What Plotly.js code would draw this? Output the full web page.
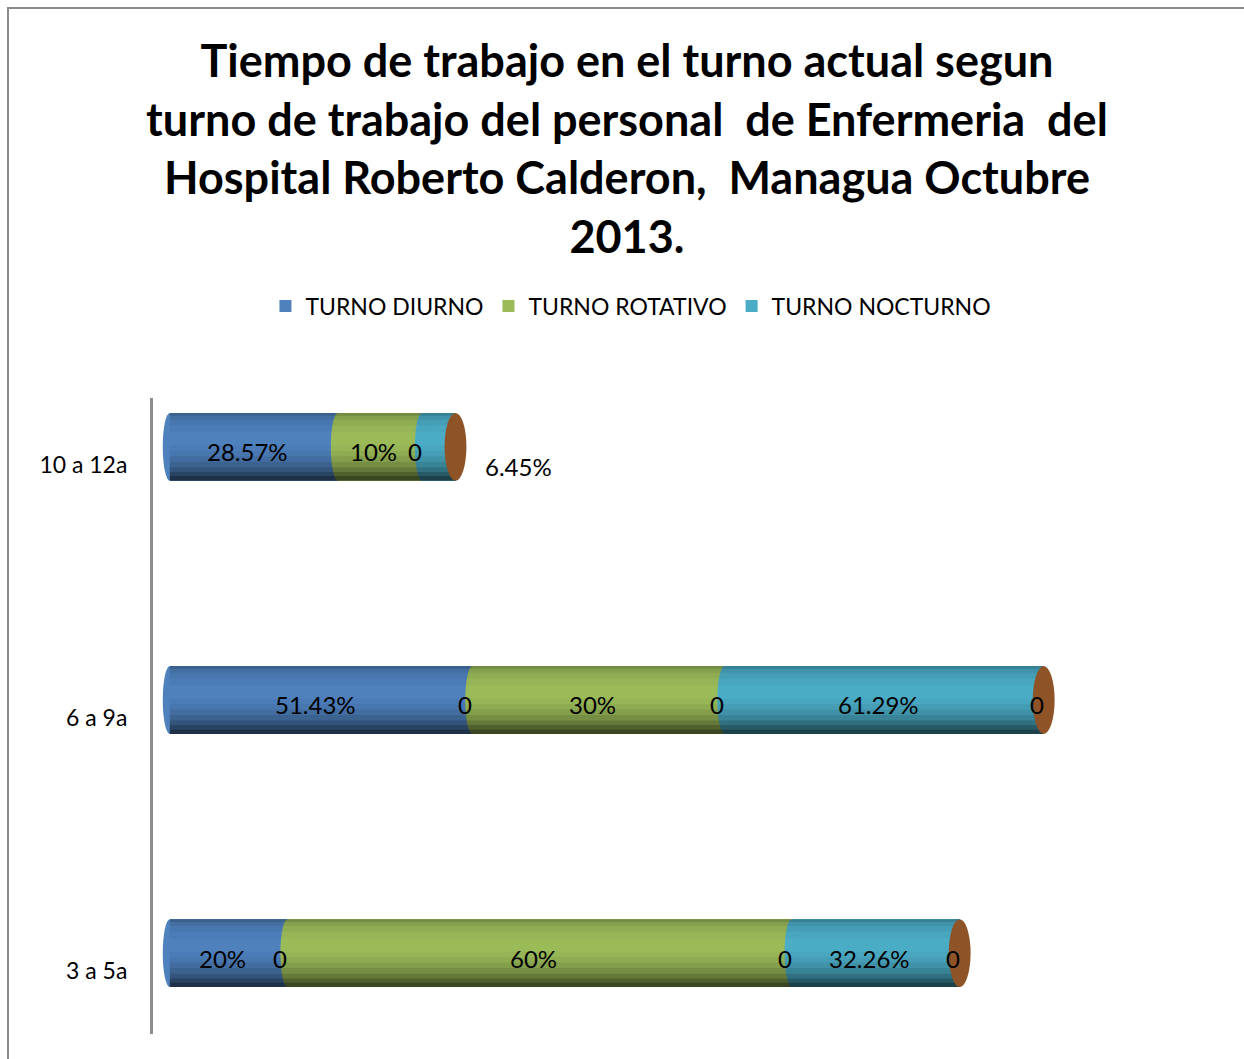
<!DOCTYPE html>
<html>
<head>
<meta charset="utf-8">
<script src="https://cdn.plot.ly/plotly-3.0.1.min.js"></script>
<style>
  html, body { margin: 0; padding: 0; background: #ffffff; }
  #wrap { position: relative; width: 1244px; height: 1059px; overflow: hidden; }
  #chart { position: absolute; left: 0; top: 0; width: 1244px; height: 1059px; }
  #frame { position: absolute; left: 7px; top: 7px; width: 1250px; height: 1070px;
           border-top: 2px solid #8a8a8a; border-left: 2px solid #8a8a8a; pointer-events: none; }
</style>
</head>
<body>
<div id="wrap">
  <div id="chart"></div>
  <div id="frame"></div>
</div>
<script>
// ---- Data (bottom to top) ----
const categories = ['3 a 5a', '6 a 9a', '10 a 12a'];
const seriesNames = ['TURNO DIURNO', 'TURNO ROTATIVO', 'TURNO NOCTURNO'];
const diurno   = [7, 18, 10];
const rotativo = [30, 15, 5];
const nocturno = [10, 19, 2];
const diurnoLabels   = ['20%', '51.43%', '28.57%'];
const rotativoLabels = ['60%', '30%', '10%'];
const nocturnoLabels = ['32.26%', '61.29%', '6.45%'];
const diurnoZeroLabels   = ['0', '0', ''];
const rotativoZeroLabels = ['0', '0', '0'];
const nocturnoZeroLabels = ['0', '0', ''];

const colors = ['#4F81BD', '#9BBB59', '#4BACC6'];
const capColor = '#8E5428';
const FONT = 'Lato, "Open Sans", "Noto Sans", sans-serif';

const series = [diurno, rotativo, nocturno];
const pctLabels = [diurnoLabels, rotativoLabels, nocturnoLabels];
const zeroLabels = [diurnoZeroLabels, rotativoZeroLabels, nocturnoZeroLabels];

const BAR_W = 0.268, BAR_OFF = -0.063;

const traces = series.map((vals, s) => ({
  type: 'bar', orientation: 'h', name: seriesNames[s],
  y: categories, x: vals,
  marker: { color: colors[s], line: { width: 0 } },
  width: BAR_W, offset: BAR_OFF,
  hoverinfo: 'name+x'
}));

const shapes = [];
const annotations = [];
const bands = [
  [0.00, 0.04, 0.25], [0.04, 0.10, 0.14], [0.10, 0.18, 0.08], [0.18, 0.28, 0.03],
  [0.48, 0.56, 0.03], [0.56, 0.64, 0.08], [0.64, 0.72, 0.15], [0.72, 0.80, 0.24],
  [0.80, 0.87, 0.35], [0.87, 0.93, 0.48], [0.93, 1.00, 0.62]
];
categories.forEach((cat, i) => {
  const yb = i + BAR_OFF, yt = i + BAR_OFF + BAR_W;
  let start = 0;
  series.forEach((vals, s) => {
    const v = vals[i];
    // rounded (cylindrical) leading edge of each segment
    shapes.push({ type: 'circle', xref: 'x', yref: 'y', layer: 'above',
      x0: start - 0.42, x1: start + 0.42, y0: yb, y1: yt,
      fillcolor: colors[s], line: { width: 0 } });
    // percentage label
    if (v >= 3) {
      annotations.push({ x: start + v / 2, y: i, xref: 'x', yref: 'y', text: pctLabels[s][i],
        showarrow: false, xshift: -6, yshift: 13, font: { family: FONT, size: 24, color: '#000' } });
    } else {
      annotations.push({ x: start + v, y: i, xref: 'x', yref: 'y', text: pctLabels[s][i],
        showarrow: false, xanchor: 'left', xshift: 27, yshift: -2, font: { family: FONT, size: 24, color: '#000' } });
    }
    if (zeroLabels[s][i]) {
      annotations.push({ x: start + v, y: i, xref: 'x', yref: 'y', text: zeroLabels[s][i],
        showarrow: false, xshift: -7, yshift: 13, font: { family: FONT, size: 24, color: '#000' } });
    }
    start += v;
  });
  const total = start;
  // cylindrical shading
  bands.forEach(b => {
    shapes.push({ type: 'rect', xref: 'x', yref: 'y', layer: 'above',
      x0: 0, x1: total, y0: yt - (yt - yb) * b[1], y1: yt - (yt - yb) * b[0],
      fillcolor: 'rgba(0,0,0,' + b[2] + ')', line: { width: 0 } });
  });
  // end cap
  shapes.push({ type: 'circle', xref: 'x', yref: 'y', layer: 'above',
    x0: total - 0.65, x1: total + 0.65, y0: yb, y1: yt,
    fillcolor: capColor, line: { width: 0 } });
});

const layout = {
  width: 1244, height: 1059,
  paper_bgcolor: '#ffffff', plot_bgcolor: '#ffffff',
  margin: { l: 153, r: 44, t: 398, b: 25 },
  barmode: 'stack',
  title: {
    text: 'Tiempo de trabajo en el turno actual segun<br>turno de trabajo del personal  de Enfermeria  del<br>Hospital Roberto Calderon,  Managua Octubre<br>2013.',
    font: { family: FONT, size: 45, color: '#000', weight: 700 },
    x: 0.504, xanchor: 'center', xref: 'container',
    y: 0.927, yanchor: 'top', yref: 'container'
  },
  showlegend: true,
  legend: {
    orientation: 'h', traceorder: 'normal',
    x: 0.4565, xanchor: 'center', y: 1.1447, yanchor: 'middle',
    font: { family: FONT, size: 23, color: '#000' },
    bgcolor: 'rgba(0,0,0,0)'
  },
  xaxis: { visible: false, range: [-1, 61.3], fixedrange: true },
  yaxis: {
    type: 'category', range: [-0.2485, 2.264],
    showline: true, linecolor: '#8c8c8c', linewidth: 3,
    showgrid: false, zeroline: false,
    ticks: 'outside', ticklen: 18, tickcolor: 'rgba(0,0,0,0)',
    tickfont: { family: FONT, size: 23, color: '#000' }
  },
  shapes: shapes,
  annotations: annotations
};

Plotly.newPlot('chart', traces, layout, { displayModeBar: false, staticPlot: true });
</script>
</body>
</html>
